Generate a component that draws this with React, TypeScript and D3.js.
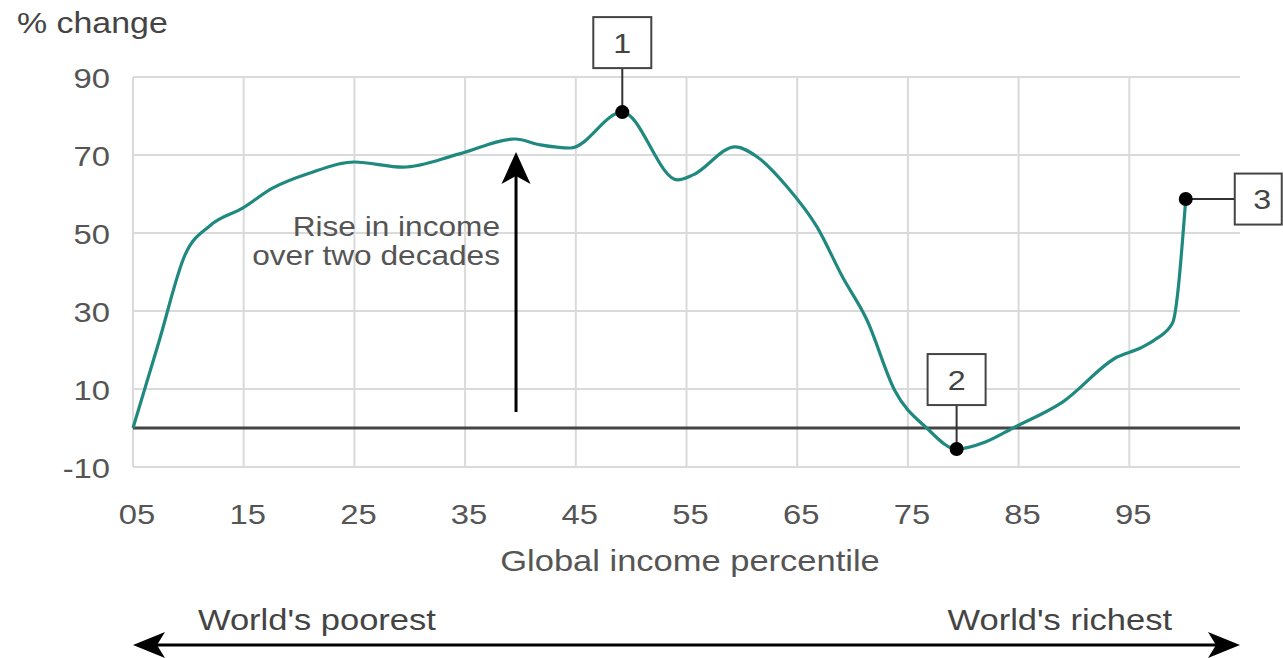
import React from "react";
import * as d3 from "d3";

const percentile = [5, 7.35, 9.7, 12, 14.9, 17.6, 21, 25, 29.4, 34.5, 39.5, 41.8, 44.5, 49.2, 54.2, 55.6, 59.4, 61.4, 64.1, 66.8, 69.1, 71.3, 73.8, 76.7, 79.4, 82, 84.5, 89, 93.9, 96, 97.4, 98.9, 100.1];
const change = [0, 22.2, 44.4, 52, 56.4, 61.5, 65.4, 68.2, 66.9, 70.3, 74.1, 72.6, 71.8, 81, 63.6, 64.9, 72.1, 69.5, 61.8, 51.5, 38.7, 27.7, 9.7, 0, -5.4, -3.6, 0, 6.7, 18.2, 20.5, 22.8, 26.9, 58.7];

const xTickValues = [5, 15, 25, 35, 45, 55, 65, 75, 85, 95];
const xTickLabels = ["05", "15", "25", "35", "45", "55", "65", "75", "85", "95"];
const yTickValues = [90, 70, 50, 30, 10, -10];
const yTickLabels = ["90", "70", "50", "30", "10", "-10"];

const calloutPercentile = [49.2, 79.4, 100.1];
const calloutChange = [81, -5.4, 58.7];
const calloutLabels = ["1", "2", "3"];
const calloutSide = ["top", "top", "right"];

const W = 1283;
const H = 658;
const SX = 1.15;
const FONT = "'Liberation Sans', Arial, Helvetica, sans-serif";

function T({ x, y, size, anchor = "start", fill = "#555", children }: any) {
  return (
    <g transform={`translate(${x},${y}) scale(${SX},1)`}>
      <text x={0} y={0} fontSize={size} textAnchor={anchor} fill={fill} fontFamily={FONT}>
        {children}
      </text>
    </g>
  );
}

export default function App() {
  const x = d3.scaleLinear().domain([5, 105]).range([133, 1240]);
  const y = d3.scaleLinear().domain([-10, 90]).range([467, 77]);
  const data = percentile.map((p, i) => [p, change[i]] as [number, number]);
  const line = d3
    .line<[number, number]>()
    .x((d) => x(d[0]))
    .y((d) => y(d[1]))
    .curve(d3.curveMonotoneX);

  const teal = "#20897f";
  const x0 = x(5);
  const x1 = x(105);
  const yTop = y(90);
  const yBot = y(-10);

  const arrowX = x(39.6);
  const arrowTop = y(70.8);
  const arrowBottom = y(4.1);

  const bottomY = 645;

  return (
    <svg
      width={W}
      height={H}
      style={{ position: "fixed", left: 0, top: 0, background: "#fff" }}
    >
      <rect x={0} y={0} width={W} height={H} fill="#fff" />
      {yTickValues.map((v) => (
        <line key={"h" + v} x1={x0} x2={x1} y1={y(v)} y2={y(v)} stroke="#dadada" strokeWidth={2} />
      ))}
      {xTickValues.map((v) => (
        <line key={"v" + v} x1={x(v)} x2={x(v)} y1={yTop} y2={yBot} stroke="#dadada" strokeWidth={2} />
      ))}
      <line x1={x0} x2={x1} y1={y(0)} y2={y(0)} stroke="#444" strokeWidth={3} />

      {yTickValues.map((v, i) => (
        <T key={"yl" + v} x={110} y={y(v) + 10.5} size={28.5} anchor="end">
          {yTickLabels[i]}
        </T>
      ))}
      {xTickValues.map((v, i) => (
        <T key={"xl" + v} x={x(v) + 4} y={524} size={28.5} anchor="middle">
          {xTickLabels[i]}
        </T>
      ))}

      <T x={17} y={33} size={29.5} fill="#444">% change</T>
      <T x={690} y={571} size={30} anchor="middle">Global income percentile</T>

      <T x={500} y={236} size={27.5} anchor="end">Rise in income</T>
      <T x={500} y={265} size={27.5} anchor="end">over two decades</T>

      <line x1={arrowX} x2={arrowX} y1={arrowBottom} y2={arrowTop + 20} stroke="#000" strokeWidth={3} />
      <path
        d={`M${arrowX},${arrowTop} L${arrowX + 14.5},${arrowTop + 32} L${arrowX},${arrowTop + 24} L${arrowX - 14.5},${arrowTop + 32} Z`}
        fill="#000"
      />

      <path d={line(data) || ""} fill="none" stroke={teal} strokeWidth={3.2} strokeLinejoin="round" />

      {calloutPercentile.map((p, i) => {
        const px = x(p);
        const py = y(calloutChange[i]);
        if (calloutSide[i] === "top") {
          const bw = 58;
          const bh = 51;
          const by = py - 44 - bh;
          return (
            <g key={"c" + i}>
              <line x1={px} x2={px} y1={py} y2={py - 44} stroke="#333" strokeWidth={2} />
              <rect x={px - bw / 2} y={by} width={bw} height={bh} fill="#fff" stroke="#444" strokeWidth={2} />
              <T x={px} y={by + bh / 2 + 10} size={28} anchor="middle" fill="#444">
                {calloutLabels[i]}
              </T>
              <circle cx={px} cy={py} r={7} fill="#000" />
            </g>
          );
        }
        const bw = 47;
        const bh = 51;
        const bx = px + 49;
        return (
          <g key={"c" + i}>
            <line x1={px} x2={bx} y1={py} y2={py} stroke="#333" strokeWidth={2} />
            <rect x={bx} y={py - bh / 2} width={bw} height={bh} fill="#fff" stroke="#444" strokeWidth={2} />
            <T x={bx + bw / 2 + 4} y={py + 10} size={28} anchor="middle" fill="#444">
              {calloutLabels[i]}
            </T>
            <circle cx={px} cy={py} r={7} fill="#000" />
          </g>
        );
      })}

      <line x1={x0 + 20} x2={x1 - 20} y1={bottomY} y2={bottomY} stroke="#000" strokeWidth={3} />
      <path
        d={`M${x0},${bottomY} L${x0 + 32},${bottomY - 13} L${x0 + 24},${bottomY} L${x0 + 32},${bottomY + 13} Z`}
        fill="#000"
      />
      <path
        d={`M${x1},${bottomY} L${x1 - 32},${bottomY - 13} L${x1 - 24},${bottomY} L${x1 - 32},${bottomY + 13} Z`}
        fill="#000"
      />
      <T x={198} y={630} size={30} fill="#444">World's poorest</T>
      <T x={1172} y={630} size={30} anchor="end" fill="#444">World's richest</T>
    </svg>
  );
}
